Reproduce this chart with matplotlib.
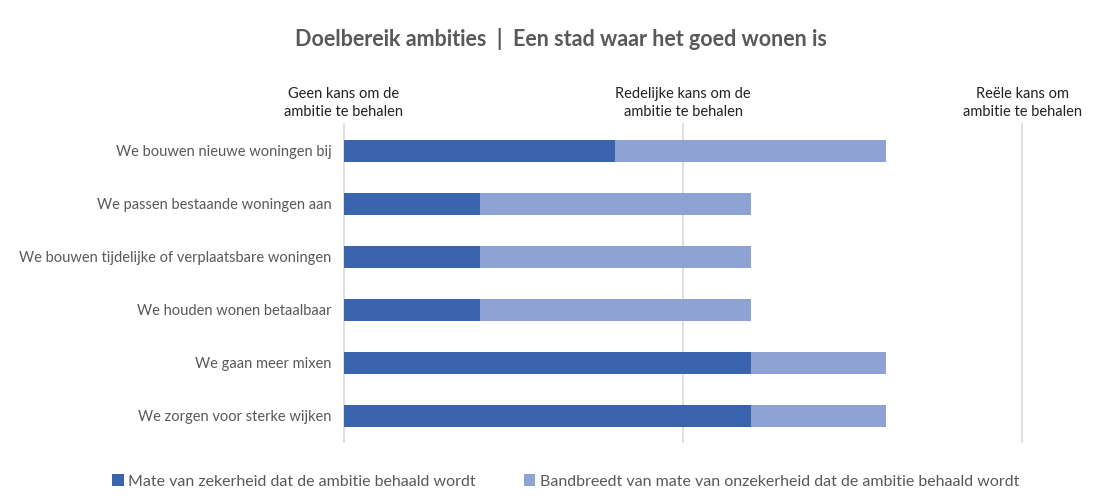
import matplotlib.pyplot as plt

categories = [
    'We bouwen nieuwe woningen bij',
    'We passen bestaande woningen aan',
    'We bouwen tijdelijke of verplaatsbare woningen',
    'We houden wonen betaalbaar',
    'We gaan meer mixen',
    'We zorgen voor sterke wijken',
]
zekerheid = [0.8, 0.4, 0.4, 0.4, 1.2, 1.2]
bandbreedte = [0.8, 0.8, 0.8, 0.8, 0.4, 0.4]
tick_pos = [0, 1, 2]
tick_labels = ['Geen kans om de\nambitie te behalen',
               'Redelijke kans om de\nambitie te behalen',
               'Reële kans om\nambitie te behalen']

plt.rcParams['font.family'] = ['Lato', 'DejaVu Sans']

fig = plt.figure(figsize=(11.05, 5.03), dpi=100)
ax = fig.add_axes([0.3113, 0.1203, 0.6136, 0.6322])

y = list(range(len(categories)))
dark = '#3A64AD'
light = '#8EA3D4'
ax.barh(y, zekerheid, height=0.4, color=dark,
        label='Mate van zekerheid dat de ambitie behaald wordt', zorder=3)
ax.barh(y, bandbreedte, left=zekerheid, height=0.4, color=light,
        label='Bandbreedt van mate van onzekerheid dat de ambitie behaald wordt', zorder=3)

ax.set_xlim(0, 2)
ax.set_ylim(len(categories) - 0.5, -0.5)
ax.set_yticks(y)
ax.set_yticklabels(categories, color='#595959', fontsize=10.5)
ax.tick_params(axis='y', length=0, pad=9)
ax.set_xticks(tick_pos)
ax.xaxis.tick_top()
ax.set_xticklabels(tick_labels, color='#222222', fontsize=10.5, linespacing=1.4)
ax.tick_params(axis='x', length=0, pad=4)
for sp in ax.spines.values():
    sp.set_visible(False)
for xv in tick_pos:
    ax.axvline(xv, color='#D9D9D9', lw=1.2, zorder=1, clip_on=False)

fig.suptitle('Doelbereik ambities  |  Een stad waar het goed wonen is',
             x=0.508, y=0.945, fontsize=15.5, fontweight='bold', color='#595959')

fig.legend(loc='lower center', ncol=2, frameon=False, bbox_to_anchor=(0.512, 0.0),
           fontsize=11.5, handlelength=0.7, handleheight=0.7, handletextpad=0.3,
           columnspacing=3.0, labelcolor='#595959')

fig.savefig('out.png', dpi=100)
